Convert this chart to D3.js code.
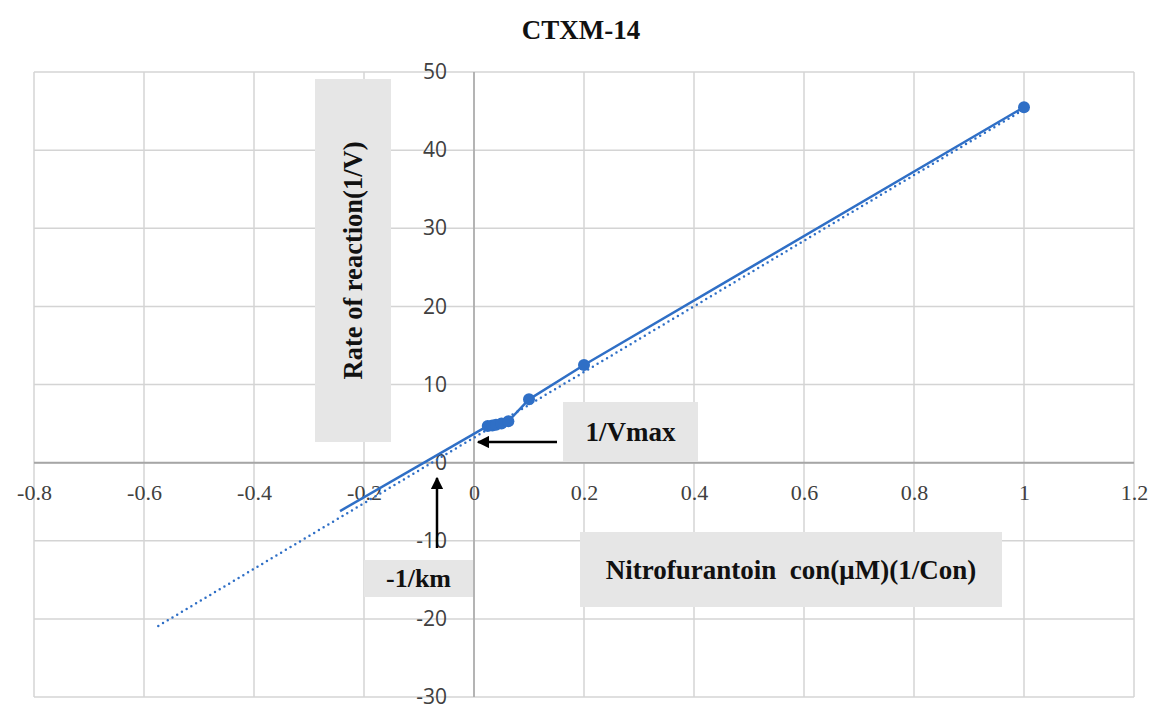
<!DOCTYPE html>
<html>
<head>
<meta charset="utf-8">
<script src="https://cdn.jsdelivr.net/npm/d3@7/dist/d3.min.js"></script>
<style>
  html, body { margin: 0; padding: 0; background: #fff; }
  svg { display: block; }
</style>
</head>
<body>
<svg id="chart" width="1154" height="706"></svg>
<script>
// Lineweaver–Burk data: 1/[S] against 1/V
const invConc = [0.025, 0.0333, 0.04, 0.05, 0.0625, 0.1, 0.2, 1];
const invRate = [4.7, 4.75, 4.85, 5.0, 5.3, 8.1, 12.5, 45.5];

// solid extension of the series back toward the x axis
const extX = [-0.2436, 0.025];
const extY = [-6.2, 4.7];

// linear trendline (dotted), forecast backward
const trendX = [-0.574, 1];
const trendY = [-20.9, 45.2];

const xTicks = [-0.8, -0.6, -0.4, -0.2, 0, 0.2, 0.4, 0.6, 0.8, 1, 1.2];
const yTicks = [-30, -20, -10, 0, 10, 20, 30, 40, 50];

const svg = d3.select("#chart");
const x = d3.scaleLinear().domain([-0.8, 1.2]).range([34, 1134]);
const y = d3.scaleLinear().domain([-30, 50]).range([697, 72]);

const blue = "#2f6fc6";
const serif = "'Liberation Serif', 'Times New Roman', serif";
const plain = d => String(d);   // hyphen-minus, as in the spreadsheet labels

// title
svg.append("text")
  .attr("x", 581).attr("y", 39)
  .attr("text-anchor", "middle")
  .attr("font-family", serif).attr("font-weight", "bold").attr("font-size", 27)
  .attr("fill", "#111")
  .text("CTXM-14");

// gridlines
const grid = svg.append("g");
grid.selectAll("line.h").data(yTicks).join("line")
  .attr("x1", x(-0.8)).attr("x2", x(1.2))
  .attr("y1", d => y(d)).attr("y2", d => y(d))
  .attr("stroke", "#d4d4d4").attr("stroke-width", 1.5);
grid.selectAll("line.v").data(xTicks).join("line")
  .attr("y1", y(50)).attr("y2", y(-30))
  .attr("x1", d => x(d)).attr("x2", d => x(d))
  .attr("stroke", "#d4d4d4").attr("stroke-width", 1.5);

// axis lines through the origin
svg.append("line")
  .attr("x1", x(-0.8)).attr("x2", x(1.2)).attr("y1", y(0)).attr("y2", y(0))
  .attr("stroke", "#a6a6a6").attr("stroke-width", 2);
svg.append("line")
  .attr("x1", x(0)).attr("x2", x(0)).attr("y1", y(50)).attr("y2", y(-30))
  .attr("stroke", "#a6a6a6").attr("stroke-width", 1.5);

// tick labels
const xAxis = svg.append("g")
  .attr("transform", `translate(0,${y(0)})`)
  .call(d3.axisBottom(x).tickValues(xTicks).tickSize(0).tickPadding(22).tickFormat(plain));
xAxis.select(".domain").remove();
xAxis.selectAll("text")
  .attr("font-family", serif).attr("font-size", 22).attr("fill", "#404040");

const yAxis = svg.append("g")
  .attr("transform", `translate(${x(0)},0)`)
  .call(d3.axisLeft(y).tickValues(yTicks).tickSize(0).tickPadding(27).tickFormat(plain));
yAxis.select(".domain").remove();
yAxis.selectAll("text")
  .attr("font-family", "'Open Sans', sans-serif").attr("font-size", 21).attr("fill", "#404040");

// annotation boxes
function labelBox(x0, y0, w, h, txt, size, rotate) {
  svg.append("rect").attr("x", x0).attr("y", y0).attr("width", w).attr("height", h)
    .attr("fill", "#e6e6e6");
  const cx = x0 + w / 2, cy = y0 + h / 2;
  svg.append("text")
    .attr("transform", `translate(${cx},${cy})` + (rotate ? " rotate(-90)" : ""))
    .attr("text-anchor", "middle").attr("dominant-baseline", "central")
    .attr("font-family", serif).attr("font-weight", "bold").attr("font-size", size)
    .attr("fill", "#111")
    .attr("xml:space", "preserve")
    .text(txt);
}
labelBox(315, 79, 76, 363, "Rate of reaction(1/V)", 26.5, true);
labelBox(563, 402, 135, 60, "1/Vmax", 27, false);
labelBox(364, 560, 109, 37, "-1/km", 26, false);
labelBox(580, 532, 422, 75, "Nitrofurantoin  con(\u03bcM)(1/Con)", 27, false);

// arrows
const defs = svg.append("defs");
defs.append("marker").attr("id", "head")
  .attr("viewBox", "0 0 10 10").attr("refX", 9).attr("refY", 5)
  .attr("markerWidth", 5).attr("markerHeight", 5).attr("orient", "auto")
  .attr("markerUnits", "strokeWidth")
  .append("path").attr("d", "M0,0 L10,5 L0,10 z").attr("fill", "#000");
svg.append("line")
  .attr("x1", 557).attr("y1", 442).attr("x2", 478).attr("y2", 442)
  .attr("stroke", "#000").attr("stroke-width", 2.5).attr("marker-end", "url(#head)");
svg.append("line")
  .attr("x1", 437).attr("y1", 548).attr("x2", 437).attr("y2", 478)
  .attr("stroke", "#000").attr("stroke-width", 2.5).attr("marker-end", "url(#head)");

// series line, its backward extension and markers
const line = d3.line().x(d => x(d[0])).y(d => y(d[1]));
svg.append("path")
  .datum(extX.map((v, i) => [v, extY[i]]))
  .attr("d", line).attr("fill", "none")
  .attr("stroke", blue).attr("stroke-width", 2.5);
svg.append("path")
  .datum(invConc.map((v, i) => [v, invRate[i]]))
  .attr("d", line).attr("fill", "none")
  .attr("stroke", blue).attr("stroke-width", 2.5).attr("stroke-linejoin", "round");

// trendline
svg.append("path")
  .datum(trendX.map((v, i) => [v, trendY[i]]))
  .attr("d", line).attr("fill", "none")
  .attr("stroke", blue).attr("stroke-width", 2.5)
  .attr("stroke-linecap", "round").attr("stroke-dasharray", "0 5.5");

svg.append("g").selectAll("circle")
  .data(invConc.map((v, i) => [v, invRate[i]]))
  .join("circle")
  .attr("cx", d => x(d[0])).attr("cy", d => y(d[1])).attr("r", 6)
  .attr("fill", blue);
</script>
</body>
</html>
